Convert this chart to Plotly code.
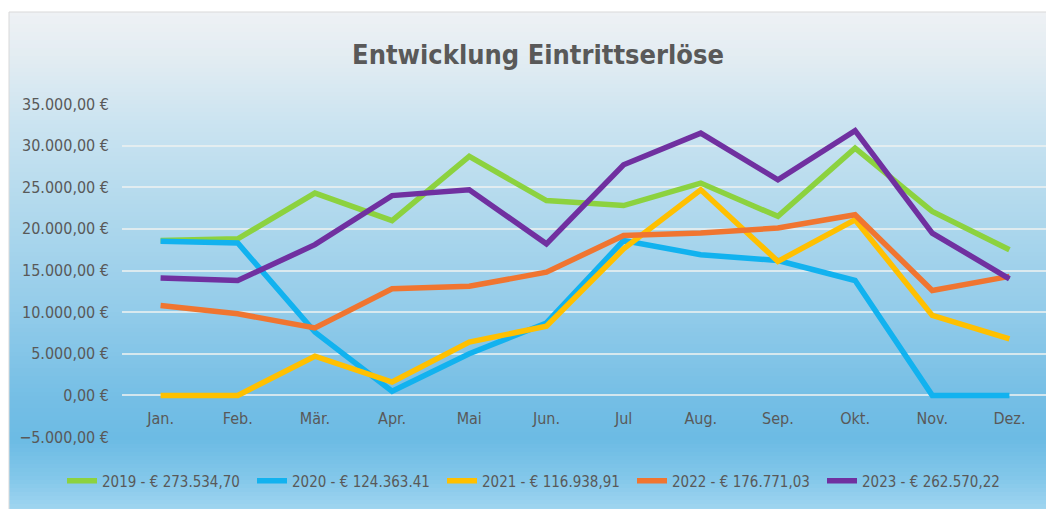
import plotly.graph_objects as go

months = ["Jan.", "Feb.", "Mär.", "Apr.", "Mai", "Jun.", "Jul", "Aug.", "Sep.", "Okt.", "Nov.", "Dez."]

v2019 = [18600, 18800, 24300, 21000, 28700, 23400, 22800, 25500, 21500, 29700, 22100, 17500]
v2020 = [18500, 18300, 7600, 500, 5000, 8700, 18600, 16900, 16200, 13800, 0, 0]
v2021 = [0, 0, 4700, 1600, 6400, 8300, 17600, 24700, 16100, 21100, 9600, 6800]
v2022 = [10800, 9800, 8100, 12800, 13100, 14800, 19200, 19500, 20100, 21700, 12600, 14300]
v2023 = [14100, 13800, 18100, 24000, 24700, 18200, 27700, 31500, 25900, 31800, 19500, 14000]

names = ["2019 - € 273.534,70", "2020 - € 124.363.41", "2021 - € 116.938,91",
         "2022 - € 176.771,03", "2023 - € 262.570,22"]
colors = ["#8cd23f", "#12b2ef", "#ffc000", "#f07530", "#7030a0"]
series = [v2019, v2020, v2021, v2022, v2023]

FONT = "DejaVu Sans Condensed, Roboto, sans-serif"
OFF = 8  # page body margin
W, H = 1054 - OFF, 509 - OFF
ML, MR, MT, MB = 122 - OFF, 6, 104 - OFF, H - (437 - OFF)

fig = go.Figure()
for n, c, v in zip(names, colors, series):
    fig.add_trace(go.Scatter(x=months, y=v, name=n, mode="lines",
                             line=dict(color=c, width=5.5), hoverinfo="x+y+name"))

plot_h = H - MT - MB
plot_w = W - ML - MR
def py2paper(py):  # py: reference screen pixel
    return (H - MB - (py - OFF)) / plot_h
def px2paper(px):
    return ((px - OFF) - ML) / plot_w

# gradient background built from stacked strips
stops = [(12, (238, 241, 244)), (60, (226, 236, 242)), (120, (204, 228, 241)),
         (200, (180, 218, 237)), (300, (150, 205, 234)), (400, (116, 190, 229)),
         (440, (108, 187, 228)), (480, (132, 200, 234)), (509, (160, 213, 240))]
shapes = []
step = 4
for y in range(12, 509, step):
    yc = y + step / 2
    col = stops[-1][1]
    for (a, ca), (b, cb) in zip(stops[:-1], stops[1:]):
        if a <= yc <= b:
            t = (yc - a) / (b - a)
            col = tuple(int(round(ca[i] + (cb[i] - ca[i]) * t)) for i in range(3))
            break
    shapes.append(dict(type="rect", xref="paper", yref="paper", layer="below",
                       x0=px2paper(9), x1=px2paper(1060),
                       y0=py2paper(min(y + step + 1, 512)), y1=py2paper(y),
                       fillcolor="rgb(%d,%d,%d)" % col, line=dict(width=0)))
shapes.append(dict(type="rect", xref="paper", yref="paper", layer="below",
                   x0=px2paper(9), x1=px2paper(1060), y0=py2paper(512), y1=py2paper(12),
                   fillcolor="rgba(0,0,0,0)", line=dict(color="#d9d9d9", width=1)))

fig.update_layout(
    width=W, height=H,
    margin=dict(l=ML, r=MR, t=MT, b=MB, autoexpand=False),
    paper_bgcolor="white", plot_bgcolor="rgba(0,0,0,0)",
    separators=",.",
    shapes=shapes,
    font=dict(family=FONT, color="#595959", size=14),
    title=dict(text="<b>Entwicklung Eintrittserlöse</b>", x=(538 - OFF) / W, xanchor="center",
               y=1 - (55 - OFF) / H, yanchor="middle",
               font=dict(family=FONT, size=27, color="#595959")),
    showlegend=True,
    legend=dict(orientation="h", x=px2paper(62), xanchor="left", y=py2paper(481), yanchor="middle",
                font=dict(family=FONT, size=15, color="#595959"),
                bgcolor="rgba(0,0,0,0)", itemwidth=30, tracegroupgap=0, entrywidth=145),
    xaxis=dict(type="category", range=[-0.5, 11.5], showgrid=False, zeroline=False,
               showline=False, anchor="free", position=py2paper(396),
               ticks="outside", ticklen=8, tickcolor="rgba(0,0,0,0)", automargin=False,
               tickfont=dict(family=FONT, size=16, color="#595959"), fixedrange=True),
    yaxis=dict(range=[-5000, 35000], dtick=5000, tick0=0, tickformat=",.2f", ticksuffix=" €",
               showgrid=True, gridcolor="rgba(235,240,240,0.8)", gridwidth=1.5, automargin=False,
               zeroline=False, showline=False, ticks="", ticklabelstandoff=12,
               tickfont=dict(family=FONT, size=16, color="#595959"), fixedrange=True),
)

fig.write_html("out.html")
